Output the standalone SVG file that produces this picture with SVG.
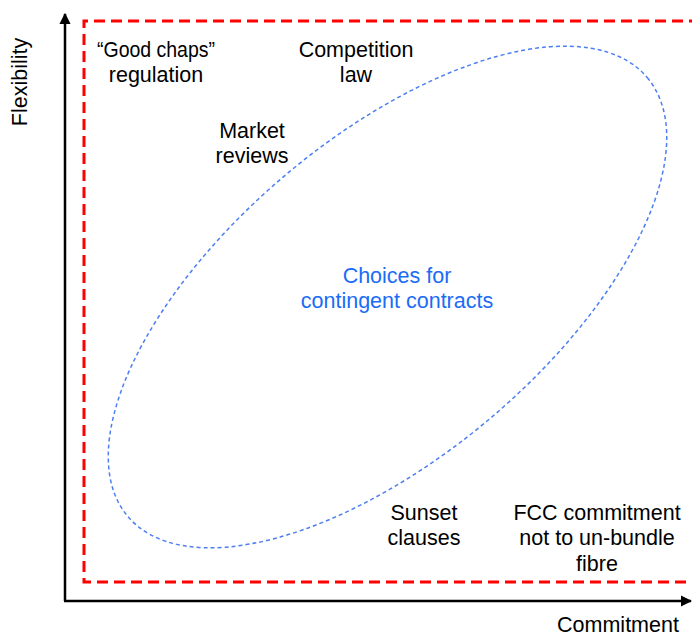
<svg xmlns="http://www.w3.org/2000/svg" width="692" height="638" viewBox="0 0 692 638">
  <style>
    .lbl { font-family: "Liberation Sans", Arial, sans-serif; font-size: 21.5px; fill: #000; text-anchor: middle; }
    .blue { fill: #1a6cf5; }
    .axis { stroke: #000; stroke-width: 2.5; fill: none; }
    .frame { stroke: #ff0000; stroke-width: 3; fill: none; stroke-dasharray: 11 6; }
    .oval { stroke: #4d7ff2; stroke-width: 1.5; fill: none; stroke-dasharray: 4 3; }
  </style>
  <defs>
    <marker id="arrow" viewBox="0 0 10 10" refX="9" refY="5" markerWidth="4.5" markerHeight="4.5" orient="auto">
      <path d="M0,0 L10,5 L0,10 z" fill="#000"/>
    </marker>
  </defs>
  <rect width="692" height="638" fill="#fff"/>

  <g id="connectors">
    <!-- axes -->
    <path class="axis" d="M65,601 L65,14" marker-end="url(#arrow)"/>
    <path class="axis" d="M64,601 L691,601" marker-end="url(#arrow)"/>
    <!-- dashed frame -->
    <path class="frame" d="M700,21 L84,21 L84,582 L700,582"/>
    <!-- region of contingent contracts -->
    <ellipse class="oval" cx="387.5" cy="297" rx="340" ry="159" transform="rotate(-40.2 387.5 297)"/>
  </g>

  <g id="axis-flexibility">
    <text class="lbl" transform="translate(27 82) rotate(-90)">Flexibility</text>
  </g>
  <g id="axis-commitment">
    <text class="lbl" x="618" y="632">Commitment</text>
  </g>
  <g id="good-chaps">
    <text class="lbl" x="156" y="57" textLength="118" lengthAdjust="spacingAndGlyphs">“Good chaps”</text>
    <text class="lbl" x="156" y="82">regulation</text>
  </g>
  <g id="competition-law">
    <text class="lbl" x="356" y="57">Competition</text>
    <text class="lbl" x="356" y="82">law</text>
  </g>
  <g id="market-reviews">
    <text class="lbl" x="252" y="138">Market</text>
    <text class="lbl" x="252" y="163">reviews</text>
  </g>
  <g id="choices">
    <text class="lbl blue" x="397" y="283">Choices for</text>
    <text class="lbl blue" x="397" y="308">contingent contracts</text>
  </g>
  <g id="sunset-clauses">
    <text class="lbl" x="424" y="520">Sunset</text>
    <text class="lbl" x="424" y="545">clauses</text>
  </g>
  <g id="fcc">
    <text class="lbl" x="597" y="520">FCC commitment</text>
    <text class="lbl" x="597" y="545">not to un-bundle</text>
    <text class="lbl" x="597" y="571">fibre</text>
  </g>
</svg>
